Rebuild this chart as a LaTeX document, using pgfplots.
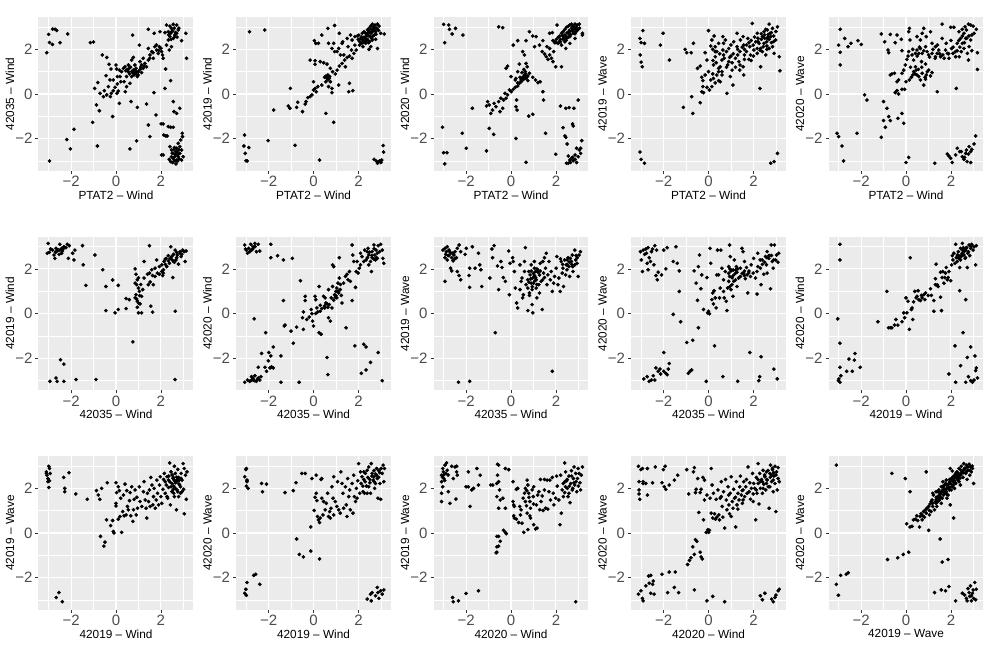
\documentclass[border=0pt]{standalone}
\usepackage{fontspec}
\setmainfont{Liberation Sans}
\usepackage{pgfplots}
\pgfplotsset{compat=1.18}
\definecolor{panelbg}{RGB}{235,235,235}
\definecolor{ticklab}{RGB}{77,77,77}
\definecolor{tickcol}{RGB}{51,51,51}
\pgfplotsset{
  pts/.style={only marks, mark=*, mark size=1.65pt, color=black, mark options={draw=black, fill=black}},
  gg/.style={
    scale only axis, width=155pt, height=154pt,
    xmin=-3.45, xmax=3.45, ymin=-3.45, ymax=3.45,
    axis background/.style={fill=panelbg},
    axis line style={draw=none},
    xtick={-2,0,2}, ytick={-2,0,2},
    xticklabels={−2,0,2}, yticklabels={−2,0,2},
    minor xtick={-3,-1,1,3}, minor ytick={-3,-1,1,3},
    grid=both,
    major grid style={white, line width=1.1pt},
    minor grid style={white, line width=0.55pt},
    tick align=outside, major tick length=3pt, minor tick length=0pt,
    tick pos=left,
    major tick style={tickcol, line width=0.6pt},
    tick label style={font=\fontsize{15}{15}\selectfont, text=ticklab},
    xticklabel style={yshift=1.5pt},
    yticklabel style={xshift=0.5pt},
    label style={font=\fontsize{11.8}{11.8}\selectfont, text=black},
    xlabel style={at={(axis description cs:0.5,-0.155)}, anchor=center},
    ylabel style={at={(axis description cs:-0.184,0.5)}, anchor=center},
  }
}
\begin{document}
\begin{tikzpicture}[x=1pt,y=1pt]
\useasboundingbox (0,0) rectangle (989,659);
% ---------------- Row 1 ----------------
\begin{axis}[gg, at={(38.5pt,488pt)}, anchor=south west, xlabel={PTAT2 – Wind}, ylabel={42035 – Wind}]
\addplot[pts] coordinates {(-3.0,2.67)(-2.82,2.91)(-2.71,2.9)(-2.64,2.85)(-2.96,2.31)(-2.83,2.22)(-2.49,2.3)(-2.15,2.69)(-3.08,1.85)(-1.14,2.3)(-1.0,2.33)
(-2.96,-3.0)(-2.19,-2.04)(-2.03,-2.46)(-1.87,-1.58)(-0.83,-2.33)(-1.04,-1.27)(-0.87,-0.49)(-0.74,-0.75)(-0.15,-1.01)(-0.95,0.25)
(-0.81,0.51)(-0.61,1.75)(-0.41,1.64)(-0.31,1.33)(-0.22,1.12)(-0.44,0.82)(-0.27,0.63)(-0.52,0.15)(-0.41,-0.04)(-0.25,-0.12)(-0.12,0.15)(-0.04,0.3)(0.06,0.45)(0.04,0.03)(-0.21,0.03)(0,1.3)(0.03,1.12)(0.15,1.07)(0.18,0.78)(0.21,0.55)(0.1,0.13)(0.15,-0.42)(0.41,0.1)(0.36,0.55)(0.47,0.78)(0.55,1.0)(0.4,1.22)(0.55,1.3)(0.7,1.52)(0.77,1.64)(0.62,0.48)(0.67,-0.34)(0.77,1.07)(0.84,0.93)(0.92,1.0)(0.99,0.85)(1.07,1.1)(1.14,0.96)(1.21,1.15)(1.07,1.45)(1.21,1.6)(0.74,2.64)(1.04,2.19)(0.95,-0.6)(0.92,-2.1)(0.62,-2.46)(1.36,-0.45)(1.44,1.52)(1.51,1.75)(1.44,2.04)(1.59,1.9)(1.66,1.6)(1.73,2.12)(1.81,1.97)(1.88,1.82)(1.93,2.12)(2.03,1.9)(2.07,1.75)(2.1,1.6)(2.21,1.12)(1.44,2.9)(1.7,2.72)(1.96,2.79)(2.18,0.25)(1.69,0.06)(1.78,-0.94)(1.44,-1.39)(1.51,-1.91)(2.01,-1.34)(2.1,-1.34)(2.03,-2.73)(2.1,-2.73)(2.13,-1.84)(2.22,-1.88)(2.28,-1.88)(2.33,-1.46)(2.43,-1.49)(2.55,-1.49)(2.43,0.6)(2.58,-0.79)(2.7,-0.87)(2.84,-0.64)(2.55,-0.34)(2.92,2.39)(3.11,2.72)(3.14,1.6)(2.95,-1.76)
(2.25,3.09)(2.4,3.04)(2.55,3.12)(2.7,3.09)(2.47,2.94)(2.33,2.79)(2.43,2.72)(2.52,2.84)(2.62,2.64)(2.4,2.57)(2.55,2.49)(2.7,2.72)(2.25,2.19)(2.37,1.97)(2.47,2.12)(2.77,2.87)(2.33,2.42)(2.18,2.75)
(2.4,-2.36)(2.47,-2.51)(2.55,-2.66)(2.62,-2.81)(2.7,-2.96)(2.43,-3.03)(2.52,-3.07)(2.62,-2.99)(2.77,-2.81)(2.84,-2.66)(2.92,-2.51)(2.84,-2.36)(2.77,-2.21)(2.88,-2.06)(2.96,-1.91)(2.7,-2.43)(2.67,-2.58)(2.58,-2.48)(2.74,-2.73)(2.81,-2.91)(2.47,-2.81)(2.37,-2.93)(2.67,-3.13)(2.99,-2.81)(2.92,-2.96)
(0.25,1.0)(0.33,1.15)(0.44,1.04)(0.59,1.15)(0.7,1.0)(0.8,0.85)(0.89,1.15)(0.95,0.78)(1.14,1.3)(1.29,1.37)(1.36,1.22)(0.84,1.3)(0.7,0.78)(0.47,0.33)(-0.12,0.63)(0.06,0.78)(-0.34,0.33)(-0.56,-0.12)(-0.71,0.03)
(2.5,2.8)(2.6,2.95)(2.65,2.75)(2.45,2.45)(2.6,2.55)(2.35,2.65)(2.72,2.55)(2.8,2.95)(2.55,-2.9)(2.65,-2.7)(2.72,-2.6)(2.8,-2.5)(2.6,-2.4)(2.75,-3.0)(2.5,-2.65)(0.6,0.9)(0.75,0.95)(0.85,1.05)(1.0,1.0)(0.9,0.9)(1.1,1.2)(0.5,1.1)(0.65,1.2)(1.25,1.25)(1.5,1.6)(1.65,1.85)(1.8,2.2)(2.0,2.05)(1.9,1.95)};
\end{axis}
\begin{axis}[gg, at={(236pt,488pt)}, anchor=south west, xlabel={PTAT2 – Wind}, ylabel={42019 – Wind}]
\addplot[pts] coordinates {(-2.85,2.79)(-2.17,2.87)
(-3.07,-1.84)(-3.1,-2.33)(-3.04,-2.66)(-3.0,-2.99)(-2.95,-3.0)(-2.88,-2.4)(-2.02,-2.09)(-0.82,-2.3)(0.27,-2.96)(0.9,-1.27)(0.55,-0.87)
(-1.77,-0.72)(-1.12,-0.54)(-1.05,-0.64)(-0.75,-0.6)(-0.7,-0.37)(-0.49,-0.79)(-0.37,-0.45)(-0.33,-0.34)(-0.25,-0.16)(-0.15,-0.12)(-0.07,-0.04)(0,0.18)(0.07,0.25)(0.12,0.1)(0.19,0.33)(-1.03,0.25)(0,0.55)(0.37,0.4)(0.6,0.7)(0.64,0.85)(0.72,0.78)(0.49,0.75)(0.55,0.55)(0.75,0.55)(0.67,0.33)(0.82,0.25)(0.82,0.06)(1.12,0.4)(1.57,0.1)(1.75,0.15)(1.6,0.48)(0.97,0.9)(0.85,1.0)(0.75,1.15)(0.6,1.34)(0.45,1.4)(0.3,1.45)(0.07,1.49)(-0.15,1.52)(0.07,1.33)(1.05,1.07)(1.15,1.25)(1.27,1.37)(1.39,1.52)(1.5,1.64)(1.42,1.22)(1.6,1.7)(1.72,1.6)(1.8,1.82)(1.9,1.97)(1.69,1.97)(1.54,2.12)(1.84,2.19)(1.27,2.27)(1.12,2.04)(1.05,1.9)(0.9,2.27)(0.67,2.27)(0.37,2.64)(0.64,2.94)(0.94,3.07)(1.15,2.72)(0.04,2.39)(0.1,2.27)(0.22,2.27)(0.82,2.04)(0.94,1.9)(1.2,1.75)(1.3,2.34)(1.5,2.49)(1.65,2.64)(1.72,2.42)(1.35,1.75)
(2.02,2.64)(2.1,2.49)(2.17,2.42)(2.25,2.54)(2.32,2.72)(2.4,2.87)(2.47,2.94)(2.55,3.04)(2.62,3.13)(2.74,3.09)(2.85,3.13)(2.92,3.04)(2.7,2.94)(2.62,2.79)(2.55,2.72)(2.47,2.6)(2.4,2.45)(2.3,2.34)(2.14,2.27)(2.05,2.19)(2.2,2.12)(2.32,2.27)(2.47,2.34)(2.59,2.49)(2.7,2.64)(2.77,2.79)(2.85,2.9)(2.55,2.12)(2.47,2.0)(2.77,2.45)(2.99,2.72)(3.15,2.69)(2.85,2.04)(2.35,2.6)(2.17,2.72)(1.99,2.45)(1.95,2.6)(1.84,2.57)(2.25,2.79)
(3.1,-2.31)(3.12,-2.6)(2.7,-2.93)(2.8,-3.01)(2.89,-3.04)(3.0,-3.07)(3.04,-2.96)(2.85,-3.1)(2.95,-2.99)
(2.3,2.5)(2.4,2.65)(2.5,2.8)(2.6,2.9)(2.65,2.6)(2.72,2.85)(2.8,2.95)(2.45,2.3)(2.35,2.4)(2.55,2.55)(2.62,2.42)(2.5,2.35)(2.2,2.3)(2.15,2.55)(2.05,2.35)(2.9,2.85)(2.78,2.68)(2.68,3.0)(2.42,2.75)(2.25,2.4)(0.6,0.75)(0.65,0.65)(0.55,0.8)(0.7,0.7)};
\end{axis}
\begin{axis}[gg, at={(433.5pt,488pt)}, anchor=south west, xlabel={PTAT2 – Wind}, ylabel={42020 – Wind}]
\addplot[pts] coordinates {(-3.0,3.12)(-2.77,3.09)(-2.74,2.9)(-2.62,2.69)(-2.47,2.94)(-2.14,2.64)(-2.95,2.3)(-0.55,3.01)(-0.37,2.97)
(-3.05,-1.49)(-3.0,-2.63)(-2.85,-2.63)(-2.95,-3.13)(-2.17,-1.76)(-1.99,-2.43)(-1.09,-2.55)(-0.97,-1.54)(-0.77,-1.81)(0.22,-1.99)(0.67,-3.06)(-1.72,-0.64)(-1.04,-0.34)(-0.97,-0.49)(-1.09,-0.54)(-0.9,-0.87)(-0.82,-0.72)(-0.67,-0.57)(-0.49,-0.79)(-0.75,-0.42)(-0.55,-0.34)(-0.33,-0.27)(-0.22,-0.19)(-0.15,-0.04)(-0.27,0.03)(-0.45,-0.19)(-0.37,-0.64)(0.22,-0.57)(0.27,-0.72)(0.79,-0.99)(0.97,-0.91)(-0.07,0.18)(0.01,0.1)(0.1,0.21)(0.19,0.3)(0.3,0.36)(0.37,0.48)(0.45,0.63)(0.52,0.75)(0.6,0.85)(0.67,0.7)(0.75,0.81)(0.82,0.93)(0.64,1.0)(0.57,1.1)(0.49,0.96)(0.67,1.37)(0.72,1.22)(0.97,0.75)(1.09,0.63)(1.2,0.51)(1.3,0.55)(1.42,0.1)(1.45,-0.27)(1.54,-1.76)(0.25,-0.27)(-0.22,1.15)(-0.15,1.25)(0,0.78)(0.22,0.7)(0.19,0.63)(0.3,1.0)(0.37,1.34)(0.6,1.75)(0.1,2.19)(0.3,2.39)(0.67,2.39)(0.82,2.79)(0.97,2.6)(1.12,2.57)(1.05,2.12)(1.27,2.19)(1.39,1.9)(1.5,1.79)(1.57,1.67)(1.65,1.55)(1.72,1.75)(1.8,1.6)(1.87,1.45)(1.99,1.22)(2.25,1.22)(1.72,2.04)(1.6,2.12)(1.9,1.9)(0.52,1.9)(1.42,2.39)(1.72,2.72)(1.84,2.75)(1.95,2.3)(2.05,3.09)
(1.87,2.39)(1.95,2.34)(2.02,2.45)(2.1,2.54)(2.17,2.6)(2.25,2.72)(2.32,2.79)(2.4,2.9)(2.47,2.99)(2.55,3.04)(2.62,3.09)(2.7,3.13)(2.77,3.04)(2.85,3.13)(2.95,3.09)(3.04,3.13)(2.85,2.94)(2.74,2.87)(2.62,2.79)(2.55,2.72)(2.44,2.6)(2.32,2.45)(2.2,2.34)(2.1,2.27)(2.25,2.19)(2.4,2.34)(2.47,2.49)(2.62,2.57)(2.77,2.72)(2.89,2.79)(2.99,2.9)(3.18,2.72)(3.18,2.64)(2.62,2.27)(2.44,2.04)(2.85,2.49)
(2.99,-0.27)(2.2,-0.54)(2.44,-0.64)(2.59,-0.61)(2.8,-0.64)(2.74,-1.34)(2.77,-1.43)(2.32,-1.51)(2.4,-1.88)(2.44,-1.94)(2.5,-2.24)(1.99,-2.7)(2.55,-2.78)(2.47,-3.1)(2.55,-3.1)(2.62,-2.96)(2.7,-2.88)(2.77,-2.99)(2.85,-2.93)(2.92,-3.07)(2.99,-2.81)(3.04,-2.51)(3.1,-2.43)(3.1,-2.66)(3.15,-2.09)(2.92,-2.43)(2.74,-2.84)(2.85,-2.73)(2.65,-3.07)
(2.4,2.65)(2.5,2.75)(2.6,2.85)(2.7,2.95)(2.8,2.9)(2.9,3.0)(2.65,2.65)(2.75,2.8)(2.55,2.55)(2.35,2.5)(2.2,2.45)(2.3,2.6)(2.45,2.4)(2.85,2.7)(2.95,2.85)(3.05,2.95)(2.15,2.35)(2.0,2.3)(0.5,0.7)(0.6,0.8)(0.55,0.65)(0.7,0.75)(0.65,0.9)(0.45,0.55)(0.75,0.6)(0.4,0.75)(0.3,0.5)};
\end{axis}
\begin{axis}[gg, at={(631pt,488pt)}, anchor=south west, xlabel={PTAT2 – Wind}, ylabel={42019 – Wave}]
\addplot[pts] coordinates {(-3.05,2.49)(-2.92,2.84)(-3.0,2.3)(-2.85,2.27)(-3.04,1.75)(-3.0,1.43)(-2.95,1.22)(-2.14,2.19)(-2.02,2.72)(-1.74,1.52)(-3.05,-2.6)(-3.0,-2.93)(-2.85,-3.1)(-1.12,-0.6)(-1.04,2.0)(-0.97,1.85)(-0.77,1.85)(-0.67,2.27)(-0.75,-0.12)(-0.7,-0.87)(-0.37,-0.39)(-0.49,1.15)(-0.37,1.25)(-0.25,0.33)(-0.3,0.1)(-0.22,0.06)(-0.25,0.6)(-0.3,0.75)(-0.15,0.85)(0,2.84)(-0.15,1.85)(-0.07,1.52)(0,1.0)(0.04,0.18)(0.1,0.63)(0.19,0.9)(0.25,2.6)(0.15,2.42)(0.1,2.15)(0.19,2.0)(0.3,2.12)(0.37,1.9)(0.45,2.27)(0.3,1.67)(0.34,1.4)(0.22,1.3)(0.45,1.15)(0.37,0.85)(0.22,0.7)(0.15,0.33)(0.64,2.57)(0.67,2.27)(0.64,1.97)(0.67,1.75)(0.6,1.52)(0.52,1.22)(0.6,0.85)(0.52,0.55)(0.82,0.03)(0.85,1.3)(0.9,2.04)(0.94,1.64)(1.05,1.4)(1.05,1.07)(1.09,0.4)(0.97,0.78)(1.12,2.34)(1.27,2.12)(1.3,1.75)(1.35,1.45)(1.39,1.07)(1.57,0.85)(1.54,1.22)(1.6,1.55)(1.69,1.9)(1.57,2.19)(1.42,2.42)(1.75,2.49)(1.84,2.12)(1.87,1.75)(1.95,3.16)(2.02,1.97)(2.1,2.34)(2.17,1.82)(2.32,1.22)(2.29,0.25)(2.17,2.72)(2.25,2.27)(2.4,2.57)(2.44,2.12)(2.55,1.75)(2.62,2.87)(2.7,3.13)(2.77,2.57)(2.85,2.12)(2.92,1.82)(2.99,2.42)(3.07,3.01)(3.15,1.67)(3.18,1.04)(2.47,2.79)(2.59,2.34)(2.7,2.04)(2.74,2.72)(2.85,2.94)(2.32,2.04)(2.17,2.04)(1.99,2.19)(2.47,2.27)(2.62,2.49)(2.4,1.9)(3.07,-2.66)(2.92,-3.03)(2.77,-3.1)(0.75,2.42)(1.27,2.72)(1.54,2.57)(-0.07,0.3)
(2.55,2.9)(2.66,2.66)(2.8,2.3)(2.35,2.45)(2.6,2.0)(2.9,2.6)(3.0,2.8)(2.2,2.5)(1.8,2.3)(1.4,1.9)(1.2,1.6)(0.8,1.2)(0.45,0.6)(1.9,1.5)(1.0,1.7)(0.6,1.0)(0.3,0.5)(1.6,2.0)(2.5,2.5)(2.7,2.45)
(1.1,1.8)(1.3,2.0)(1.5,2.1)(1.7,2.2)(1.9,2.4)(2.05,2.55)(2.2,2.35)(2.35,2.7)(2.5,2.65)(2.65,2.55)(2.8,2.75)(2.9,2.35)(2.6,2.15)(2.3,1.95)(2.0,1.7)(1.8,1.55)(1.4,1.3)(1.2,1.2)(0.9,1.45)(0.7,1.6)(0.5,1.8)(0.3,1.9)(0.2,1.5)(0.45,1.0)(0.8,1.9)(1.0,2.2)(1.6,1.75)};
\end{axis}
\begin{axis}[gg, at={(828.5pt,488pt)}, anchor=south west, xlabel={PTAT2 – Wind}, ylabel={42020 – Wave}]
\addplot[pts] coordinates {(-2.93,2.9)(-3.0,2.19)(-2.93,1.87)(-2.73,2.49)(-2.58,2.12)(-2.45,2.27)(-2.93,1.3)(-2.14,2.39)(-1.99,2.22)(-3.07,-1.76)(-3.0,-1.91)(-2.85,-2.33)(-2.78,-3.0)(-2.18,-1.76)(-1.84,-0.04)(-1.74,-0.27)(-1.1,2.69)(-0.95,2.34)(-0.8,1.97)(-0.77,1.85)(-0.7,2.67)(-0.48,2.3)(-0.4,2.64)(-0.21,2.45)(-0.18,1.94)(-1.0,-0.34)(-1.0,-1.19)(-0.92,-1.49)(-0.85,-0.64)(-0.77,-1.01)(-0.7,-1.19)(-1.1,-1.94)(-0.36,-1.09)(-0.18,-0.87)(-0.1,-1.31)(0,-3.07)(0.12,-2.84)(1.28,-3.1)(-0.63,0.9)(-0.51,0.93)(-0.7,0.85)(-0.4,0.55)(-0.33,0.63)(-0.48,0.06)(-0.4,0.15)(-0.33,0)(-0.18,0.21)(-0.06,0.21)(0,0.55)(-0.18,0.93)(-0.1,1.07)(-0.03,1.3)(0.04,1.55)(0.09,1.7)(0.15,2.94)(0.12,2.79)(0.15,0.63)(0.24,0.75)(0.3,0.85)(0.34,1.0)(0.42,1.22)(0.45,1.07)(0.49,0.85)(0.57,0.78)(0.64,0.63)(0.72,0.93)(0.79,0.4)(0.87,0.66)(0.9,0.85)(1.01,1.07)(1.09,0.81)(1.16,0.96)(0.42,1.82)(0.49,1.97)(0.57,1.82)(0.64,2.04)(0.72,1.82)(0.79,1.94)(0.87,2.12)(0.94,1.9)(1.01,1.75)(0.79,2.94)(0.72,2.72)(0.64,2.42)(0.9,2.57)(1.09,2.79)(1.16,2.27)(1.31,2.12)(1.39,1.82)(1.46,1.97)(1.54,1.67)(1.61,3.13)(1.61,2.49)(1.64,1.75)(1.76,1.97)(1.84,1.82)(1.91,1.6)(1.99,2.99)(2.03,2.04)(2.09,1.82)(2.13,2.99)(2.21,1.67)(2.28,2.27)(2.24,0.25)(1.39,0.1)(2.36,2.79)(2.43,2.49)(2.51,2.27)(2.58,2.72)(2.63,3.01)(2.69,2.87)(2.78,3.13)(2.88,3.09)(2.99,3.04)(3.13,2.9)(3.03,2.72)(2.88,2.42)(2.81,2.12)(2.73,1.82)(2.78,1.52)(3.18,1.85)(3.18,1.1)(2.46,1.9)(2.37,1.67)(2.58,2.04)(2.66,2.49)(2.51,2.6)(2.93,2.64)(2.93,1.94)(2.28,1.94)(1.79,2.27)(1.16,1.82)(1.31,1.67)(0.27,1.75)(0.34,1.52)(0.12,1.9)(0.18,2.42)(0.49,2.57)(0.69,1.45)(0.87,1.34)
(1.84,-2.69)(1.91,-2.78)(1.99,-2.88)(2.21,-2.73)(2.28,-2.43)(2.39,-2.58)(2.51,-2.81)(2.58,-2.93)(2.66,-2.66)(2.69,-2.51)(2.78,-2.69)(2.88,-2.58)(2.81,-2.36)(2.93,-2.48)(3.03,-2.24)(3.1,-1.88)(2.88,-3.07)(2.72,-3.03)(2.61,-2.84)(2.46,-2.58)(2.06,-3.07)
(1.2,2.0)(1.4,2.2)(1.5,1.8)(1.7,1.6)(1.9,1.8)(2.1,2.1)(2.2,1.9)(2.4,2.1)(2.6,2.3)(2.7,2.5)(2.8,2.6)(2.5,2.9)(2.35,2.4)(2.0,2.4)(1.3,1.6)(0.6,2.1)(0.5,1.7)(0.3,2.0)(0.2,1.2)(0.4,0.9)(0.55,1.1)(0.7,1.2)(0.95,1.0)(0.85,0.75)(1.05,1.65)};
\end{axis}
% ---------------- Row 2 ----------------
\begin{axis}[gg, at={(38.5pt,268.5pt)}, anchor=south west, xlabel={42035 – Wind}, ylabel={42019 – Wind}]
\addplot[pts] coordinates {(-3.02,3.14)(-3.06,2.7)(-2.97,2.74)(-2.82,2.84)(-2.76,2.62)(-2.72,2.47)(-2.65,2.77)(-2.57,2.84)(-2.53,2.65)(-2.5,3.1)(-2.42,2.92)(-2.38,2.8)(-2.32,2.99)(-2.23,2.95)(-2.17,3.1)(-2.08,3.04)(-2.12,2.47)(-1.93,2.7)(-1.87,2.4)(-1.83,2.84)(-1.49,3.04)(-1.46,2.18)(-1.34,1.26)(-0.94,2.62)(-2.53,2.84)(-2.67,2.92)(-2.91,2.89)(-2.42,2.7)
(-0.59,1.96)(-0.15,1.5)(-0.45,1.21)(0.1,1.26)(-0.45,0.13)(-0.04,0.03)(0.1,0.18)(0.45,0.22)(0.45,0.67)(0.59,0.62)(0.75,-1.27)
(0.85,2.0)(0.89,1.76)(0.95,1.51)(0.85,1.36)(0.92,1.29)(1.0,1.14)(1.04,0.99)(0.89,0.84)(0.85,0.7)(0.92,0.65)(1.0,0.47)(1.07,0.43)(0.95,0.28)(1.0,0.03)(1.14,0.03)(1.14,0.77)(1.19,1.07)(1.25,1.59)(1.25,2.33)(1.44,1.29)(1.49,1.81)(1.52,1.41)(1.59,1.96)(1.63,1.7)(1.66,1.29)(1.55,0.33)(1.63,0.06)(1.49,3.04)(1.74,2.03)(1.81,2.4)(1.84,1.81)(1.93,1.76)(2.04,1.88)(2.08,1.7)(2.11,1.96)(2.04,2.18)(2.14,2.33)(2.23,2.47)(2.33,2.36)(2.41,2.47)(2.48,2.55)(2.53,1.61)(2.56,2.33)(2.63,2.84)(2.67,2.4)(2.73,2.62)(2.78,2.21)(2.85,2.77)(2.93,2.65)(2.97,2.84)(3.03,2.77)(3.08,2.33)(3.12,2.8)(2.44,2.99)(2.64,0.1)(2.26,2.1)(2.38,2.25)(1.93,2.1)(2.7,2.74)(2.56,2.65)(2.33,2.59)(2.19,2.44)(1.74,1.66)(1.4,1.76)(2.11,1.81)
(-2.47,-2.07)(-2.32,-2.27)(-2.94,-3.04)(-2.67,-2.89)(-2.62,-3.04)(-2.32,-3.04)(-1.78,-2.96)(-0.89,-2.96)(2.63,-2.96)
(1.0,1.6)(1.1,1.3)(0.95,0.55)(1.05,0.8)(2.2,2.2)(2.5,2.4)(2.7,2.5)(2.9,2.55)(2.85,2.7)(2.6,2.3)(-2.7,2.75)(-2.45,2.85)(-2.35,2.9)};
\end{axis}
\begin{axis}[gg, at={(236pt,268.5pt)}, anchor=south west, xlabel={42035 – Wind}, ylabel={42020 – Wind}]
\addplot[pts] coordinates {(-3.06,3.07)(-2.99,2.84)(-2.94,2.7)(-2.88,2.92)(-2.79,3.1)(-2.76,2.84)(-2.69,2.99)(-2.61,3.14)(-2.54,2.77)(-2.46,3.1)(-2.39,2.8)(-3.03,2.89)(-2.84,2.77)(-1.9,3.1)(-1.9,2.5)(-1.6,2.59)(-1.34,2.4)(-0.94,2.47)(-0.58,1.47)(-1.34,0.58)(-2.64,-0.24)(-1.27,-0.52)(-1.3,-0.56)(-1.0,-0.79)(-0.75,-0.61)(-0.9,-1.33)(-0.45,-0.71)(-0.37,0.77)(-0.37,0.58)(-0.49,-0.19)(-0.45,0.07)(-0.3,-0.27)(-0.19,-0.16)(-0.1,0.18)(-0.07,-0.01)(-0.04,-0.34)(0,-0.56)(0.07,0.77)(0.1,0.62)(0.15,0.25)(0.19,0.07)(0.25,1.21)(0.25,-0.86)(0.34,-0.93)(0.3,0.37)(0.37,0.22)(0.45,0.77)(0.49,0.33)(0.55,0.47)(0.6,0.43)(0.64,0.28)(0.67,-0.19)(0.75,-0.34)(0.6,-1.97)(0.64,-2.74)(0.79,0.7)(0.82,0.25)(0.85,2.18)(0.9,2.1)(0.97,0.73)(1.0,0.99)(1.04,1.14)(1.04,0.7)(1.09,1.36)(1.12,0.92)(1.15,1.59)(1.19,1.07)(1.24,0.81)(1.15,2.5)(1.27,0.47)(1.34,1.36)(1.42,1.66)(1.45,-0.64)(1.49,1.76)(1.54,1.51)(1.6,1.88)(1.64,1.44)(1.72,0.58)(1.72,3.07)(1.75,2.62)(1.79,2.33)(1.87,1.17)(1.84,-1.45)(1.9,1.88)(1.94,2.33)(1.99,1.81)(2.04,2.03)(2.09,2.7)(2.16,2.55)(2.24,-1.38)(2.34,-1.5)(2.13,-2.68)(2.34,-2.53)(2.54,-2.19)(2.88,-1.75)(3.06,-3.01)(2.28,2.84)(2.34,2.4)(2.43,2.92)(2.46,2.62)(2.54,2.33)(2.58,1.88)(2.61,2.77)(2.69,3.07)(2.73,2.62)(2.76,2.4)(2.79,2.84)(2.84,2.7)(2.88,3.04)(2.94,2.77)(2.99,3.1)(3.06,2.84)(3.09,2.47)(3.13,2.25)(2.69,2.44)(2.46,2.18)(2.24,2.33)(2.09,2.18)(2.39,2.77)(2.61,2.5)(2.84,2.47)(0.94,0.84)(0.85,1.21)(0.67,1.07)(0.52,0.7)
(-3.06,-3.08)(-2.94,-2.98)(-2.84,-3.04)(-2.76,-2.83)(-2.69,-2.98)(-2.61,-2.79)(-2.54,-3.04)(-2.46,-2.89)(-2.39,-2.98)(-2.34,-2.83)(-2.46,-2.41)(-2.64,-3.01)(-2.79,-3.01)(-2.31,-1.79)(-2.13,-0.86)(-2.16,-2.41)(-2.09,-2.59)(-2.01,-2.12)(-1.99,-1.75)(-1.9,-1.9)(-1.87,-2.39)(-1.79,-2.44)(-1.79,-1.5)(-1.45,-1.9)(-1.45,-3.08)(-0.64,-3.08)(-1.94,-2.44)
(1.0,0.8)(1.1,1.0)(1.2,1.3)(0.9,0.6)(0.7,0.4)(0.5,0.25)(0.3,0.1)(0.1,0.0)(2.4,2.5)(2.6,2.6)(2.8,2.5)(2.7,2.9)(2.5,2.75)(-2.7,-2.9)(-2.5,-2.95)(-2.6,3.0)(-2.7,2.9)};
\end{axis}
\begin{axis}[gg, at={(433.5pt,268.5pt)}, anchor=south west, xlabel={42035 – Wind}, ylabel={42019 – Wave}]
\addplot[pts] coordinates {(-3.03,2.84)(-2.94,2.92)(-2.88,2.77)(-2.84,2.99)(-2.76,2.84)(-2.94,2.5)(-2.84,2.4)(-2.76,2.59)(-2.69,2.7)(-2.64,2.5)(-2.58,2.36)(-2.54,2.62)(-2.49,2.77)(-2.43,2.5)(-2.39,2.92)(-2.31,3.07)(-2.24,2.77)(-2.69,2.03)(-2.64,1.91)(-2.39,1.88)(-2.31,1.7)(-2.24,1.51)(-2.94,1.44)(-2.04,2.65)(-1.99,2.92)(-1.84,2.03)(-1.87,1.7)(-1.84,1.17)(-1.72,2.99)(-1.6,2.03)(-1.45,2.7)(-1.39,2.18)(-1.34,1.96)(-1.3,1.21)(-0.94,1.59)(-0.85,2.89)(-0.75,3.04)(-0.82,2.5)(-0.6,2.13)(-0.55,1.07)(-0.45,2.33)(-0.4,2.06)(-0.34,1.61)(-0.25,1.44)(-0.7,-0.86)(-0.1,2.8)(-0.07,0.84)(-0.04,2.25)(0.07,2.5)(0.1,2.33)(0.15,1.88)(0.19,1.14)(0.25,0.47)(0.3,0.25)(0.4,2.18)(0.45,1.44)(0.49,1.59)(0.52,0.7)(0.55,0.84)(0.6,2.33)(0.64,2.95)(0.67,1.29)(0.75,1.14)(0.75,0.13)(0.79,1.88)(0.82,0.92)(0.85,1.73)(0.9,2.18)(0.94,0.4)(0.94,1.07)(0.97,0.03)(1.0,1.36)(1.04,2.03)(1.04,1.66)(1.09,1.88)(1.12,1.51)(1.12,1.14)(1.15,0.7)(1.19,1.96)(1.24,1.29)(1.27,1.73)(1.27,0.92)(1.34,1.44)(1.39,0.18)(1.42,2.33)(1.45,1.81)(1.49,1.61)(1.54,2.03)(1.57,2.7)(1.6,1.29)(1.64,1.73)(1.69,2.33)(1.75,1.51)(1.79,1.88)(1.84,0.99)(1.9,1.36)(1.94,1.66)(2.01,2.03)(2.04,2.55)(2.09,1.29)(2.13,1.59)(2.19,0.99)(2.24,2.33)(2.31,2.03)(2.34,1.21)(2.39,2.4)(2.43,1.73)(2.46,2.18)(2.54,2.5)(2.58,2.1)(2.61,1.66)(2.69,2.33)(2.73,2.62)(2.76,1.88)(2.84,2.84)(2.88,2.4)(2.94,2.25)(2.99,1.66)(3.03,2.62)(3.09,2.77)(2.84,2.18)(2.64,2.47)(2.49,1.96)(2.28,1.81)(1.49,2.5)(1.3,2.25)(0.97,1.59)(0.75,1.51)(0.9,1.36)(0.6,1.88)(0.4,1.07)(0.82,0.81)(1.04,2.33)(1.84,-2.59)(-2.34,-3.08)(-1.84,-3.04)(-2.73,2.77)(-2.91,2.65)
(1.0,1.8)(1.1,1.6)(0.95,1.2)(1.2,1.85)(1.05,1.45)(0.88,1.55)(1.15,1.3)(1.3,1.9)(2.6,2.3)(2.75,2.1)(2.9,2.6)(2.5,2.2)(-2.8,2.6)(-2.6,2.7)(-2.5,2.45)
(1.05,1.7)(0.9,1.9)(1.15,2.0)(0.8,1.4)(1.4,1.5)(2.3,2.2)(2.5,2.4)(2.7,2.2)(2.95,2.5)(2.2,2.45)};
\end{axis}
\begin{axis}[gg, at={(631pt,268.5pt)}, anchor=south west, xlabel={42035 – Wind}, ylabel={42020 – Wave}]
\addplot[pts] coordinates {(-3.03,2.77)(-2.99,2.4)(-2.94,1.88)(-2.91,2.84)(-2.84,2.65)(-2.79,2.89)(-2.76,2.7)(-2.73,2.25)(-2.69,2.95)(-2.69,1.96)(-2.64,2.5)(-2.58,2.33)(-2.54,2.77)(-2.49,2.89)(-2.43,2.18)(-2.39,3.04)(-2.34,1.7)(-2.31,2.84)(-2.28,1.51)(-2.24,1.85)(-2.09,1.73)(-1.99,2.84)(-1.9,2.0)(-1.84,2.95)(-1.57,2.33)(-1.45,2.99)(-1.39,2.25)(-1.3,1.91)(-1.3,0.99)(-1.57,-0.04)(-1.24,-0.37)(-0.64,1.91)(-0.55,1.36)(-0.49,0.59)(-0.4,2.62)(-0.45,2.1)(-0.34,1.11)(-0.3,1.73)(-0.22,0.18)(-0.45,-0.64)(-0.97,-1.3)(-0.7,-1.2)(-0.07,1.61)(-0.04,0.03)(0,0.1)(0.04,-0.01)(0.07,2.92)(0.1,2.25)(0.15,0.62)(0.19,0.92)(0.22,0.43)(0.25,1.02)(0.27,-1.45)(0.3,0.7)(0.34,0.25)(0.37,1.73)(0.4,2.84)(0.45,1.73)(0.49,0.7)(0.52,1.14)(0.55,2.84)(0.6,2.03)(0.64,-2.83)(0.67,1.51)(0.7,0.7)(0.75,1.88)(0.79,0.55)(0.82,0.13)(0.85,1.14)(0.9,2.1)(0.94,3.07)(0.94,1.66)(0.97,2.55)(1.0,1.07)(1.04,1.94)(1.09,0.77)(1.12,1.44)(1.15,2.4)(1.19,1.79)(1.24,2.1)(1.27,1.21)(1.3,-3.04)(1.34,1.59)(1.42,2.03)(1.49,2.92)(1.54,2.77)(1.57,1.81)(1.6,2.33)(1.64,1.56)(1.69,2.06)(1.75,0.92)(1.79,1.81)(1.84,-1.75)(1.87,1.66)(1.9,2.18)(1.99,1.81)(2.01,2.47)(2.09,1.59)(2.16,0.87)(2.19,2.7)(2.24,-3.01)(2.28,-2.83)(2.31,2.03)(2.34,1.29)(2.34,-1.94)(2.39,2.4)(2.46,1.76)(2.54,2.55)(2.58,2.18)(2.61,2.77)(2.69,2.47)(2.76,1.11)(2.79,3.07)(2.84,2.33)(2.91,-2.49)(2.94,3.07)(2.99,2.4)(3.03,2.62)(3.06,-2.93)(3.09,2.3)(3.13,2.7)(2.88,2.03)(2.61,1.81)(2.16,1.88)(1.72,1.73)(1.42,1.66)(1.04,1.29)(1.27,1.85)(0.9,1.44)(0.67,0.99)
(1.0,1.9)(1.1,1.7)(0.95,2.0)(1.2,1.95)(1.05,1.6)(1.5,1.8)(1.6,1.9)(2.5,2.3)(2.7,2.6)(2.2,2.1)
(0.9,1.8)(1.1,1.95)(1.2,1.5)(0.95,1.2)(1.3,2.0)(1.6,1.7)(1.8,1.9)(2.3,2.4)(2.6,2.5)(2.8,2.6)(2.9,2.4)(2.4,2.2)
(-2.88,-2.93)(-2.73,-2.83)(-2.64,-3.04)(-2.54,-2.98)(-2.46,-2.79)(-2.39,-2.98)(-2.34,-2.44)(-2.24,-2.59)(-2.16,-2.49)(-2.13,-2.71)(-1.99,-1.75)(-1.99,-2.59)(-1.9,-2.68)(-1.84,-2.74)(-1.79,-2.49)(-1.75,-2.24)(-0.9,-2.68)(-0.82,-2.59)(-0.75,-2.53)(-0.1,-3.04)};
\end{axis}
\begin{axis}[gg, at={(828.5pt,268.5pt)}, anchor=south west, xlabel={42019 – Wind}, ylabel={42020 – Wind}]
\addplot[pts] coordinates {(-2.94,3.1)(-2.94,2.4)(-3.04,-0.24)(-2.94,-1.33)(-2.94,-2.41)(-2.99,-2.93)(-3.01,-3.01)(-2.94,-3.08)(-2.9,-2.79)(-2.54,-2.04)(-2.64,-2.59)(-2.39,-2.59)(-2.3,-2.09)(-2.27,-1.79)(-2.04,-2.41)(-1.25,-0.37)(-0.85,0.99)(-0.78,-0.64)(-0.7,-0.64)(-0.63,-0.64)(-0.51,-0.52)(-0.45,-0.27)(-0.36,-0.52)(-0.18,-0.37)(-0.1,0.03)(-0.06,-0.19)(0,0.7)(0.04,0.03)(0.09,0.55)(0.15,-0.71)(0.19,2.5)(0.24,0.18)(0.27,0.25)(0.3,-0.27)(0.34,0.52)(0.39,0.99)(0.45,0.7)(0.49,0.77)(0.54,1.02)(0.57,0.62)(0.64,0.58)(0.69,0.81)(0.72,0.7)(0.79,0.84)(0.84,0.62)(0.87,0.92)(1.09,1.11)(1.13,0.81)(1.24,0.58)(1.24,0.1)(1.31,1.56)(1.34,2.21)(1.39,1.29)(1.43,1.21)(1.54,1.85)(1.54,0.73)(1.58,0.13)(1.61,1.61)(1.64,1.88)(1.69,1.36)(1.73,1.61)(1.76,1.81)(1.79,2.06)(1.84,1.51)(1.88,1.61)(1.91,1.88)(1.99,1.47)(2.03,2.18)(2.06,2.59)(2.09,2.4)(2.13,2.7)(2.18,2.25)(2.21,3.1)(2.24,2.5)(2.28,2.33)(2.33,2.77)(2.36,2.47)(2.39,1.02)(2.39,2.06)(2.43,2.92)(2.48,2.62)(2.51,2.84)(2.51,3.14)(2.54,-0.86)(2.58,2.77)(2.63,2.47)(2.66,0.62)(2.69,2.95)(2.73,2.06)(2.78,2.77)(2.81,3.07)(2.84,2.59)(2.88,2.92)(2.93,3.1)(2.99,2.84)(3.03,2.99)(3.1,2.18)(3.13,3.04)(2.58,2.62)(2.28,2.62)(2.43,2.4)(2.66,2.84)(1.31,1.29)(0.99,0.81)(2.18,-1.45)(2.43,-2.34)(2.73,-1.97)(2.88,-1.5)(3.07,-1.9)(1.91,-2.71)(2.21,-3.08)(2.66,-3.08)(2.88,-3.01)(2.96,-3.08)(3.03,-2.98)(3.1,-2.56)(3.13,-2.44)(3.18,-2.89)(2.78,-2.83)
(2.5,2.7)(2.6,2.85)(2.7,2.95)(2.75,2.7)(2.45,2.55)(2.55,2.95)(2.9,3.0)(2.35,2.6)(2.65,2.5)};
\end{axis}
% ---------------- Row 3 ----------------
\begin{axis}[gg, at={(38.5pt,49pt)}, anchor=south west, xlabel={42019 – Wind}, ylabel={42019 – Wave}]
\addplot[pts] coordinates {(-3.1,2.74)(-3.07,2.59)(-3.03,2.44)(-2.99,2.99)(-2.96,2.89)(-3.03,2.3)(-2.96,2.34)(-2.99,2.04)(-2.93,2.67)(-3.1,2.67)(-2.33,2.49)(-2.28,2.0)(-2.28,1.85)(-2.09,2.7)(-1.79,1.75)(-1.28,1.51)(-2.66,-2.89)(-2.54,-2.67)(-2.39,-3.08)
(-0.87,1.9)(-0.79,1.7)(-0.72,1.51)(-0.64,2.0)(-0.69,-0.15)(-0.49,-0.41)(-0.54,-0.59)(-0.39,2.25)(-0.42,0.59)(-0.24,0.33)(-0.15,0.56)(-0.12,0.07)(-0.09,0)(0,2.25)(0,1.33)(0,1.21)(0.03,1.81)(0.1,2.07)(0.1,0.62)(0.15,1.9)(0.18,0.74)(0.21,1.56)(0.25,0.03)(0.3,0.96)(0.33,1.7)(0.36,0.77)(0.4,2.19)(0.45,0.81)(0.48,1.9)(0.51,1.19)(0.55,1.04)(0.6,1.45)(0.63,1.81)(0.66,0.77)(0.7,2.07)(0.75,0.52)(0.78,1.04)(0.81,1.51)(0.85,1.93)(0.9,0.81)(0.93,1.6)(0.96,1.11)(1.04,2.07)(1.07,1.41)(1.15,1.19)(1.22,1.85)(1.25,2.3)(1.3,1.48)(1.34,1.11)(1.37,0.67)(1.4,1.78)(1.45,1.41)(1.49,1.93)(1.52,1.19)(1.55,2.49)(1.6,2.15)(1.64,1.26)(1.67,1.63)(1.7,2.0)(1.75,1.11)(1.79,1.48)(1.82,2.37)(1.85,1.78)(1.9,1.26)(1.94,2.15)(1.97,2.52)(2.0,1.63)(2.04,1.33)(2.09,1.96)(2.12,2.4)(2.15,2.67)(2.19,1.78)(2.24,2.15)(2.27,2.52)(2.3,1.56)(2.34,2.04)(2.39,3.14)(2.39,2.3)(2.42,1.26)(2.45,2.74)(2.49,1.85)(2.54,2.44)(2.57,2.1)(2.6,2.99)(2.6,1.63)(2.64,2.67)(2.69,2.3)(2.69,1.04)(2.72,1.93)(2.75,2.85)(2.79,2.49)(2.84,2.15)(2.87,1.78)(2.9,2.67)(2.94,2.37)(2.99,3.11)(3.01,1.96)(3.04,2.89)(3.04,0.86)(3.09,2.59)(3.13,1.51)(3.16,2.74)(2.49,2.22)(2.72,2.4)(2.87,2.07)(2.34,2.37)(2.19,2.3)(2.57,1.78)(2.79,1.63)(2.94,1.85)(2.45,2.07)(2.64,2.0)(2.27,1.63)
(2.5,2.6)(2.7,2.5)(2.8,2.2)(2.6,2.35)(2.35,2.55)(2.9,2.45)(2.55,1.95)(2.75,1.85)(2.55,2.5)(2.65,2.25)(2.8,2.35)};
\end{axis}
\begin{axis}[gg, at={(236pt,49pt)}, anchor=south west, xlabel={42019 – Wind}, ylabel={42020 – Wave}]
\addplot[pts] coordinates {(-3.01,2.84)(-2.99,2.89)(-3.06,2.52)(-2.96,2.3)(-2.99,2.1)(-2.91,2.0)(-2.96,2.37)(-2.31,2.22)(-2.27,1.85)(-2.09,2.19)(-1.27,1.81)(-0.9,1.9)(-0.78,2.25)(-0.52,2.67)(-0.37,2.67)(-0.07,2.44)(0.12,2.59)(0.37,2.44)(0.33,2.4)(-0.75,-0.27)(-0.63,-0.96)(-0.45,-1.07)(-0.12,-0.81)(0.27,-1.16)(-0.12,0.27)(0.07,1.6)(0.12,1.78)(0.15,1.45)(0.03,1.01)(0.18,0.74)(0.22,0.59)(0.27,0.47)(0.3,0.67)(0.37,1.56)(0.42,0.81)(0.45,1.41)(0.52,1.04)(0.57,1.33)(0.63,1.78)(0.67,0.74)(0.72,0.96)(0.75,0.67)(0.78,1.11)(0.82,2.07)(0.87,1.56)(0.9,0.81)(0.97,1.41)(1.04,1.19)(1.12,1.04)(1.19,0.89)(1.22,2.74)(1.27,2.22)(1.31,1.78)(1.34,1.11)(1.42,2.07)(1.46,1.26)(1.49,0.74)(1.52,2.44)(1.57,1.63)(1.61,1.93)(1.64,1.04)(1.72,2.22)(1.76,0.89)(1.79,2.59)(1.82,1.63)(1.87,1.41)(1.91,2.0)(1.94,1.56)(1.97,2.34)(2.01,3.11)(2.06,1.78)(2.09,2.74)(2.12,2.22)(2.16,2.52)(2.21,1.85)(2.24,2.4)(2.27,1.78)(2.31,2.67)(2.36,2.1)(2.39,1.78)(2.42,2.49)(2.46,2.96)(2.51,2.25)(2.54,1.78)(2.57,3.11)(2.61,2.67)(2.66,2.37)(2.69,2.79)(2.72,2.0)(2.76,2.64)(2.81,2.89)(2.84,2.44)(2.87,1.56)(2.91,2.79)(2.96,2.22)(2.99,1.51)(3.01,2.89)(3.06,2.67)(3.1,3.04)(3.13,2.3)(3.16,2.89)(2.39,2.81)(2.69,2.52)(2.46,2.07)(2.24,2.74)(2.76,2.22)(1.07,2.3)(0.9,2.52)
(2.5,2.4)(2.6,2.55)(2.7,2.3)(2.8,2.6)(2.9,2.5)(2.95,2.7)(2.3,2.3)(2.2,2.1)
(-3.01,-2.52)(-3.06,-2.7)(-2.99,-2.79)(-2.96,-2.22)(-2.66,-1.9)(-2.57,-1.85)(-2.39,-2.3)(2.39,-2.96)(2.57,-3.04)(2.54,-2.74)(2.61,-2.67)(2.76,-2.81)(2.84,-2.44)(2.91,-2.93)(2.99,-2.59)(3.06,-2.74)(3.13,-2.55)(2.87,-2.67)};
\end{axis}
\begin{axis}[gg, at={(433.5pt,49pt)}, anchor=south west, xlabel={42020 – Wind}, ylabel={42019 – Wave}]
\addplot[pts] coordinates {(-3.09,2.59)(-3.09,2.3)(-3.04,2.89)(-3.01,2.74)(-2.99,2.44)(-2.94,3.04)(-2.9,2.67)(-2.87,3.14)(-2.84,2.81)(-3.04,2.07)(-3.09,1.78)(-3.09,1.41)(-2.79,1.85)(-2.72,1.33)(-2.64,2.99)(-2.57,2.44)(-2.49,2.96)(-2.42,2.99)(-2.42,2.74)(-2.45,1.52)(-2.39,2.59)(-2.0,2.07)(-1.9,2.74)(-1.9,2.07)(-1.82,1.19)(-1.75,1.93)(-1.67,2.0)(-1.52,2.89)(-1.45,2.15)(-1.37,2.59)(-0.9,2.15)(-0.81,2.15)(-0.63,1.63)(-0.55,3.04)(-0.6,2.59)(-0.63,2.22)(-0.55,2.3)(-0.55,1.11)(-0.48,1.48)(-0.55,-0.15)(-0.66,-0.89)(-0.55,-0.59)(-2.6,-2.89)(-2.57,-3.08)(-2.34,-3.04)(-2.0,-2.71)(-1.45,-2.59)
(-3.0,2.6)(-2.95,2.35)(-3.05,2.5)(-2.8,2.6)
(-0.63,-0.15)(-0.48,-0.37)(-0.63,-0.62)(-0.63,-0.86)(-0.33,0.12)(-0.25,0.03)(-0.21,-0.03)(-0.6,3.08)(-0.51,1.93)(-0.36,1.56)(-0.25,1.11)(-0.25,2.89)(-0.1,2.84)(0.09,2.3)(0.09,1.41)(0.12,1.26)(0.15,1.19)(0.12,0.77)(0.15,0.67)(0.24,0.62)(0.24,1.96)(0.3,2.0)(0.34,0.47)(0.39,1.19)(0.45,1.04)(0.49,0.44)(0.54,1.56)(0.57,0.03)(0.6,1.78)(0.64,2.0)(0.64,1.41)(0.69,1.22)(0.72,2.37)(0.72,0.89)(0.75,2.15)(0.75,0.15)(0.79,1.78)(0.84,1.41)(0.87,1.11)(0.87,0.67)(0.94,1.93)(0.99,1.63)(1.01,2.07)(1.09,0.18)(1.13,1.26)(1.16,0.22)(1.19,1.7)(1.24,1.85)(1.28,1.04)(1.34,1.41)(1.39,1.66)(1.43,1.01)(1.49,1.93)(1.54,1.11)(1.61,2.37)(1.64,1.07)(1.69,1.85)(1.73,2.37)(1.76,1.48)(1.84,2.49)(1.88,1.78)(1.91,1.26)(1.99,1.56)(2.03,2.55)(2.06,2.1)(2.13,1.48)(2.18,0.37)(2.21,2.59)(2.24,0.89)(2.28,1.93)(2.33,2.22)(2.39,3.14)(2.39,1.81)(2.43,2.74)(2.48,2.34)(2.51,2.0)(2.54,1.63)(2.58,2.55)(2.63,1.36)(2.66,2.22)(2.69,2.79)(2.73,1.93)(2.78,2.44)(2.81,2.96)(2.84,2.15)(2.88,2.67)(2.93,1.85)(2.96,2.44)(2.99,2.89)(3.03,2.67)(3.07,2.25)(3.1,1.93)(3.13,2.59)(3.18,2.96)(2.43,2.07)(2.58,1.78)(2.81,2.25)(2.33,1.63)(2.88,-3.08)(1.31,2.4)(1.49,2.4)(1.01,0.37)(0.42,0.81)(0.84,0.77)
(2.5,2.4)(2.7,2.55)(2.6,2.1)(2.9,2.3)(2.4,2.3)(3.0,2.1)(2.75,2.0)(0.8,1.6)(1.0,1.3)(0.7,1.9)};
\end{axis}
\begin{axis}[gg, at={(631pt,49pt)}, anchor=south west, xlabel={42020 – Wind}, ylabel={42020 – Wave}]
\addplot[pts] coordinates {(-3.12,2.99)(-3.09,2.3)(-3.09,1.93)(-3.09,1.75)(-3.06,1.51)(-3.01,2.84)(-2.94,2.89)(-2.91,2.3)(-2.91,2.22)(-2.79,2.22)(-2.72,1.7)(-2.72,2.89)(-2.49,2.25)(-2.37,2.96)(-2.07,2.25)(-2.01,2.84)(-1.93,2.99)(-1.97,2.07)(-1.9,1.96)(-1.75,2.15)(-1.52,2.37)(-1.37,2.59)(-0.97,2.84)(-0.88,1.75)(-0.67,2.74)(-0.63,2.93)(-0.58,1.81)(-0.55,1.96)(-0.48,2.44)(-0.43,0.92)(-0.37,1.81)(-0.33,1.96)(-0.25,2.49)(-0.22,0.59)(-0.18,2.37)(-0.18,1.48)(-0.1,0.03)(-0.07,1.7)(-0.03,0.15)(0.01,0.03)(0.04,0.12)(0.07,1.56)(0.12,0.89)(0.12,2.89)(0.16,2.15)(0.19,0.67)(0.22,1.78)(0.27,0.86)(0.31,0.62)(0.34,1.51)(0.37,0.71)(0.42,1.93)(0.46,0.81)(0.49,0.59)(0.52,1.56)(0.57,2.3)(0.61,1.19)(0.64,0.71)(0.67,1.85)(0.72,0.22)(0.76,2.4)(0.79,1.48)(0.82,1.04)(0.87,2.07)(0.91,1.26)(0.94,0.86)(0.97,1.78)(1.01,2.52)(1.06,1.41)(1.09,1.11)(1.12,1.96)(1.16,1.56)(1.21,0.27)(1.24,2.3)(1.27,1.26)(1.31,1.78)(1.36,1.48)(1.39,2.07)(1.42,2.55)(1.46,1.7)(1.51,1.33)(1.54,1.93)(1.57,2.3)(1.61,1.63)(1.66,2.07)(1.69,2.4)(1.72,1.78)(1.76,2.96)(1.81,1.85)(1.84,2.25)(1.87,1.51)(1.91,2.0)(1.96,2.67)(1.99,1.75)(2.01,2.22)(2.06,2.0)(2.1,0.59)(2.13,2.49)(2.16,1.78)(2.21,3.11)(2.21,2.22)(2.25,1.3)(2.28,2.67)(2.31,2.0)(2.36,2.4)(2.4,1.78)(2.43,2.81)(2.46,2.19)(2.51,2.52)(2.55,1.93)(2.58,2.74)(2.61,2.37)(2.66,2.07)(2.7,1.11)(2.73,2.67)(2.76,3.04)(2.81,2.3)(2.85,2.84)(2.88,1.85)(2.91,2.55)(2.96,2.99)(2.96,2.22)(3.0,0.96)(3.03,2.74)(3.06,1.93)(3.1,2.93)(3.1,2.44)(3.15,2.3)(2.58,2.22)(2.81,2.59)(2.43,2.0)(2.31,2.3)(2.13,1.93)(2.88,2.37)(2.73,2.07)(0.57,1.63)(1.01,0.74)(1.31,1.07)(1.54,1.48)(1.99,1.41)
(2.5,2.6)(2.65,2.8)(2.75,2.5)(2.85,2.9)(2.9,2.7)(3.0,2.6)(2.6,2.4)(2.4,2.3)(2.2,2.4)(1.5,1.9)(1.2,1.6)(0.9,1.7)
(-0.93,-1.41)(-0.85,-1.23)(-0.78,-1.11)(-0.7,-0.62)(-0.63,-0.96)(-0.58,-0.3)(-0.52,-0.37)(-0.37,-0.86)(-0.33,-1.07)(-0.28,-1.16)(-3.12,-2.74)(-3.01,-2.59)(-2.94,-2.93)(-2.91,-3.04)(-2.79,-2.37)(-2.67,-1.93)(-2.57,-1.9)(-2.64,-2.25)(-2.57,-2.7)(-2.49,-2.3)(-2.42,-2.74)(-2.46,-2.15)(-2.07,-1.85)(-1.82,-2.67)(-1.75,-1.75)(-1.52,-2.44)(-1.48,-1.75)(-1.33,-2.67)(-0.63,-2.55)(-0.07,-3.04)(0.19,-2.84)(0.72,-3.08)(2.31,-2.81)(2.4,-2.99)(2.51,-2.7)(2.81,-2.96)(2.88,-3.08)(2.96,-2.89)(3.0,-2.78)(3.1,-2.59)(3.15,-2.52)};
\end{axis}
\begin{axis}[gg, at={(828.5pt,49pt)}, anchor=south west, xlabel={42019 – Wave}, ylabel={42020 – Wave}]
\addplot[pts] coordinates {(-3.1,3.04)(-3.1,-2.3)(-3.01,-2.79)(-2.91,-1.9)(-2.66,-1.85)(-2.57,-1.78)(-0.82,-1.19)(-0.37,-1.11)(-0.12,-0.96)(0.12,-0.86)(-0.63,2.67)(-0.03,2.44)(0.18,1.85)(0.9,2.74)(0.03,0.41)(0.18,0.27)(0.27,0.3)(0.33,0.59)(0.42,0.62)(0.48,0.77)(0.52,0.56)(0.6,0.27)(0.63,0.74)(0.67,0.86)(0.72,0.59)(0.75,0.77)(0.78,0.96)(0.82,0.71)(0.87,1.04)(0.9,0.89)(0.93,1.11)(1.01,0.12)(1.01,1.19)(1.04,1.01)(1.07,1.3)(1.12,0.96)(1.16,1.48)(1.19,1.19)(1.22,1.7)(1.27,1.04)(1.31,1.41)(1.34,1.85)(1.37,1.19)(1.42,1.63)(1.46,1.93)(1.49,1.48)(1.52,1.78)(1.52,-0.27)(1.57,2.07)(1.61,1.56)(1.61,-1.3)(1.64,1.93)(1.67,1.7)(1.72,2.15)(1.76,1.81)(1.79,2.37)(1.82,2.0)(1.87,1.7)(1.87,-1.19)(1.91,2.22)(1.94,1.93)(1.97,1.26)(1.97,2.89)(2.01,2.44)(2.06,2.07)(2.09,2.3)(2.12,0.67)(2.16,2.59)(2.21,2.22)(2.24,2.52)(2.27,2.74)(2.31,2.37)(2.36,2.89)(2.39,2.59)(2.42,2.15)(2.46,2.99)(2.51,2.74)(2.54,2.49)(2.57,3.11)(2.61,2.84)(2.66,2.67)(2.69,3.04)(2.72,2.4)(2.76,2.81)(2.81,3.08)(2.84,2.59)(2.87,2.96)(2.91,2.74)(2.96,2.89)(3.01,2.22)(1.19,1.78)(1.42,1.85)(1.57,1.85)(1.67,2.07)(1.76,2.22)(1.87,2.07)(1.94,2.4)(2.09,2.52)(2.21,2.67)(2.31,2.67)(2.42,2.84)(2.01,1.93)(1.82,1.56)(1.57,1.33)(1.34,1.33)(1.12,1.41)(1.64,2.3)(2.16,2.0)(2.36,2.3)(1.49,1.7)(1.04,0.81)(1.19,1.33)(1.42,1.41)(1.72,1.81)(2.06,2.78)
(1.55,1.75)(1.7,1.95)(1.85,2.15)(2.0,2.2)(2.15,2.35)(2.25,2.45)(2.45,2.6)(2.55,2.7)(1.35,1.6)(1.65,2.1)(1.8,1.85)(1.95,2.05)(2.1,2.15)(2.3,2.5)(2.6,2.9)(2.7,2.75)
(1.35,1.5)(1.45,1.55)(1.55,1.6)(1.65,1.85)(1.75,1.95)(1.85,2.0)(1.95,2.3)(2.05,2.4)(2.15,2.45)(2.25,2.6)(2.35,2.55)(2.45,2.7)(2.55,2.8)(2.65,2.9)(2.75,2.95)(2.85,2.8)(2.95,3.0)(2.4,2.45)(2.2,2.25)(1.8,1.75)
(1.27,-2.67)(1.57,-2.55)(1.76,-2.59)(1.91,-2.4)(2.21,-3.04)(2.51,-2.7)(2.61,-2.78)(2.72,-3.04)(2.76,-2.49)(2.81,-2.67)(2.84,-2.84)(2.87,-2.37)(2.91,-3.04)(2.96,-2.7)(2.99,-2.55)(3.01,-2.93)(3.06,-2.22)(3.1,-2.99)(3.13,-2.52)(2.91,-2.81)(2.69,-2.93)};
\end{axis}
\end{tikzpicture}
\end{document}
